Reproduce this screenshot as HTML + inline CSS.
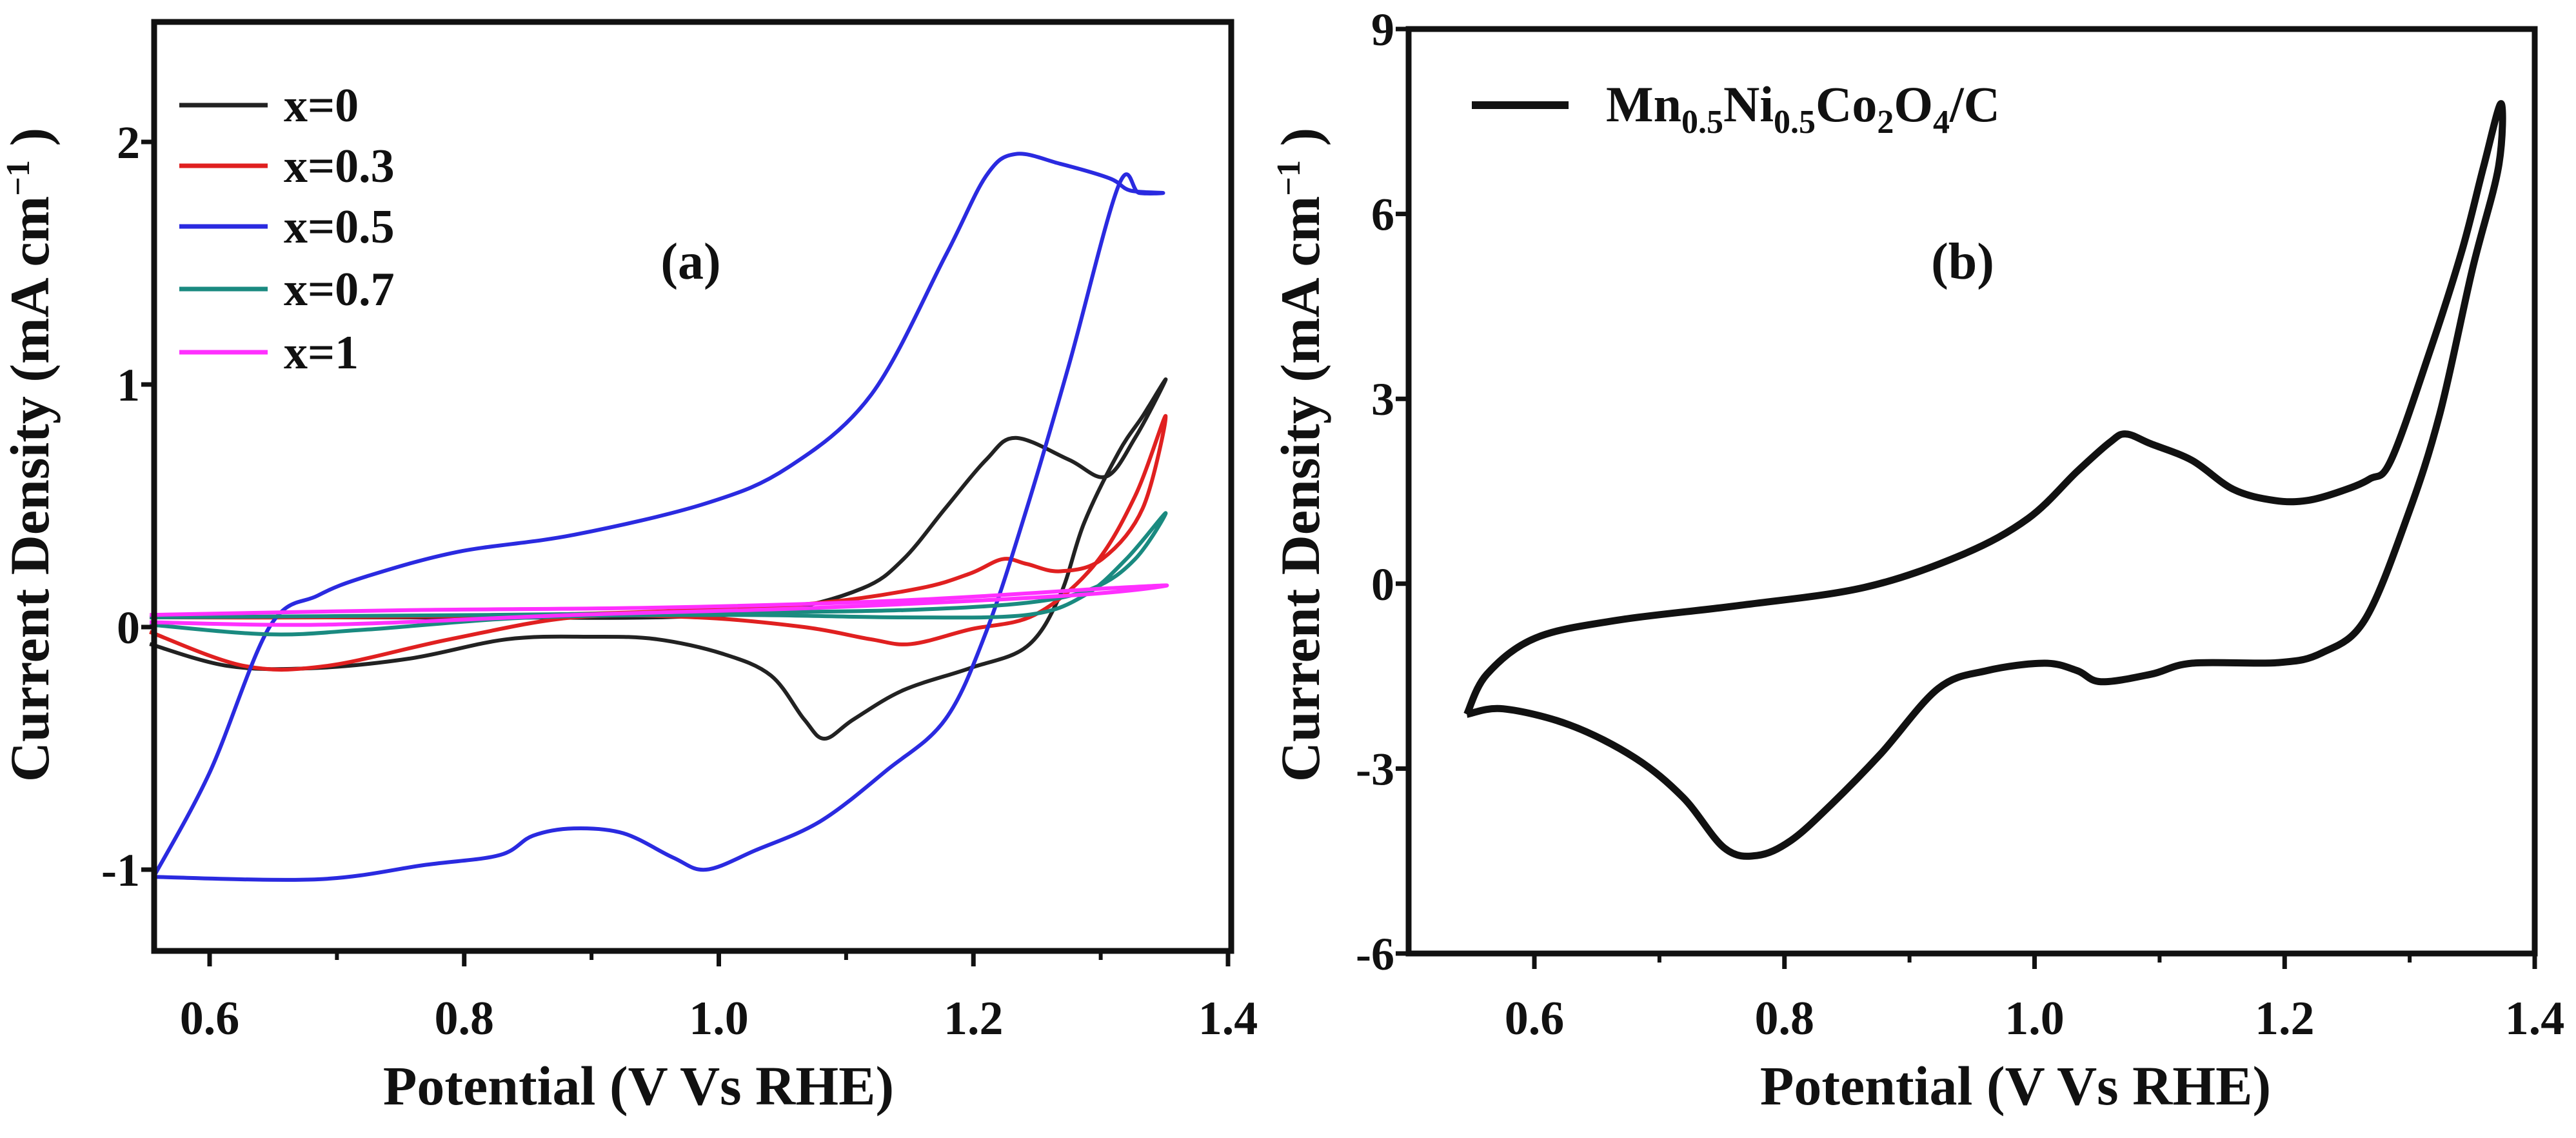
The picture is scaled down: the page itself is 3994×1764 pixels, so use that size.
<!DOCTYPE html>
<html><head><meta charset="utf-8"><style>
html,body{margin:0;padding:0;background:#fff;}
svg{display:block;}
text{font-family:"Liberation Serif",serif;font-weight:bold;fill:#111;}
</style></head><body>
<svg id="chart" width="3994" height="1764" viewBox="0 0 3994 1764" xmlns="http://www.w3.org/2000/svg">
<g id="pa"></g>
<g id="pb"></g>
</svg>
<script>
// Panel (a) data: closed CV loops [potential V, current mA/cm2]
const aXTicks = [0.6, 0.8, 1.0, 1.2, 1.4];
const aXTickLabels = ["0.6","0.8","1.0","1.2","1.4"];
const aYTicks = [-1, 0, 1, 2];
const aYTickLabels = ["-1","0","1","2"];
const aSeriesNames = ["x=0","x=0.3","x=0.5","x=0.7","x=1"];
const aSeriesColors = ["#222222","#e02020","#2a2ae0","#1a8a80","#ff30ff"];
const aX0 = [[0.553,-0.07],[0.614,-0.16],[0.679,-0.17],[0.757,-0.13],[0.834,-0.05],[0.9,-0.04],[0.951,-0.05],[1.003,-0.11],[1.041,-0.2],[1.067,-0.38],[1.083,-0.46],[1.106,-0.38],[1.145,-0.26],[1.197,-0.17],[1.242,-0.08],[1.268,0.13],[1.287,0.43],[1.314,0.72],[1.333,0.87],[1.351,1.02],[1.327,0.78],[1.304,0.62],[1.275,0.69],[1.233,0.78],[1.21,0.69],[1.178,0.49],[1.145,0.28],[1.113,0.16],[1.048,0.07],[0.951,0.04],[0.82,0.04],[0.69,0.04],[0.553,0.04]];
const aX03 = [[0.553,-0.02],[0.627,-0.16],[0.692,-0.16],[0.789,-0.05],[0.886,0.04],[0.983,0.04],[1.067,0.0],[1.119,-0.05],[1.151,-0.07],[1.197,-0.01],[1.248,0.05],[1.294,0.25],[1.327,0.54],[1.351,0.87],[1.333,0.49],[1.301,0.28],[1.268,0.23],[1.242,0.26],[1.223,0.28],[1.197,0.22],[1.158,0.16],[1.08,0.10],[0.983,0.07],[0.854,0.05],[0.692,0.04],[0.553,0.04]];
const aX05 = [[0.556,-1.03],[0.6,-0.6],[0.647,0.0],[0.685,0.13],[0.724,0.21],[0.795,0.31],[0.886,0.38],[0.99,0.51],[1.055,0.66],[1.12,0.96],[1.178,1.53],[1.21,1.86],[1.233,1.95],[1.268,1.91],[1.307,1.85],[1.323,1.80],[1.349,1.79],[1.33,1.79],[1.314,1.82],[1.275,1.08],[1.242,0.49],[1.21,-0.02],[1.178,-0.38],[1.132,-0.59],[1.08,-0.80],[1.029,-0.92],[0.99,-1.0],[0.964,-0.95],[0.925,-0.85],[0.886,-0.83],[0.854,-0.86],[0.828,-0.94],[0.77,-0.98],[0.685,-1.04],[0.556,-1.03]];
const aX07 = [[0.553,0.01],[0.647,-0.03],[0.724,-0.01],[0.854,0.04],[1.016,0.05],[1.145,0.04],[1.242,0.05],[1.287,0.13],[1.32,0.28],[1.351,0.47],[1.327,0.28],[1.294,0.16],[1.242,0.10],[1.145,0.07],[1.016,0.06],[0.82,0.05],[0.553,0.04]];
const aX1 = [[0.553,0.02],[0.692,0.01],[0.886,0.05],[1.08,0.08],[1.275,0.13],[1.351,0.17],[1.307,0.16],[1.145,0.11],[0.951,0.08],[0.757,0.07],[0.553,0.05]];
const aSeries = [aX0, aX03, aX05, aX07, aX1];

// Panel (b) data
const bXTicks = [0.6, 0.8, 1.0, 1.2, 1.4];
const bXTickLabels = ["0.6","0.8","1.0","1.2","1.4"];
const bYTicks = [-6,-3,0,3,6,9];
const bYTickLabels = ["-6","-3","0","3","6","9"];
const bCV = [[0.546,-2.12],[0.562,-1.47],[0.601,-0.88],[0.667,-0.59],[0.765,-0.35],[0.864,-0.06],[0.942,0.47],[0.995,1.06],[1.034,1.82],[1.06,2.29],[1.073,2.43],[1.093,2.27],[1.126,2.0],[1.159,1.53],[1.192,1.35],[1.218,1.35],[1.245,1.5],[1.268,1.7],[1.285,2.0],[1.316,3.76],[1.342,5.42],[1.359,6.76],[1.373,7.79],[1.371,6.76],[1.35,5.09],[1.324,2.75],[1.298,1.08],[1.264,-0.59],[1.23,-1.12],[1.195,-1.28],[1.126,-1.29],[1.093,-1.47],[1.053,-1.59],[1.034,-1.41],[1.008,-1.29],[0.962,-1.41],[0.923,-1.70],[0.877,-2.76],[0.837,-3.59],[0.805,-4.17],[0.778,-4.41],[0.752,-4.29],[0.719,-3.47],[0.68,-2.82],[0.628,-2.29],[0.575,-2.03],[0.546,-2.12]];

const NS="http://www.w3.org/2000/svg";
function mk(parent, tag, attrs, txt){
  const e=document.createElementNS(NS,tag);
  for(const k in attrs) e.setAttribute(k,attrs[k]);
  if(txt!==undefined) e.textContent=txt;
  parent.appendChild(e); return e;
}
function smooth(pts){
  let d="M"+pts[0][0].toFixed(1)+","+pts[0][1].toFixed(1);
  for(let i=0;i<pts.length-1;i++){
    const p0=pts[Math.max(i-1,0)],p1=pts[i],p2=pts[i+1],p3=pts[Math.min(i+2,pts.length-1)];
    const c1=[p1[0]+(p2[0]-p0[0])/6,p1[1]+(p2[1]-p0[1])/6];
    const c2=[p2[0]-(p3[0]-p1[0])/6,p2[1]-(p3[1]-p1[1])/6];
    d+=" C"+c1[0].toFixed(1)+","+c1[1].toFixed(1)+" "+c2[0].toFixed(1)+","+c2[1].toFixed(1)+" "+p2[0].toFixed(1)+","+p2[1].toFixed(1);
  }
  return d;
}
function panel(g, cfg){
  const sx=v=>cfg.px0+(v-cfg.x0)*(cfg.px1-cfg.px0)/(cfg.x1-cfg.x0);
  const sy=v=>cfg.py0+(v-cfg.y0)*(cfg.py1-cfg.py0)/(cfg.y1-cfg.y0);
  cfg.series.forEach((s,i)=>{
    const p=mk(g,"path",{d:smooth(s.map(q=>[sx(q[0]),sy(q[1])])),fill:"none",stroke:cfg.colors[i],"stroke-width":cfg.lw,"stroke-linejoin":"round"});
    
    
  });
  const fr=mk(g,"rect",{x:cfg.L,y:cfg.T,width:cfg.R-cfg.L,height:cfg.B-cfg.T,fill:"none",stroke:"#111","stroke-width":9});
  
  
  cfg.xt.forEach((v,i)=>{
    const x=sx(v);
    const t=mk(g,"line",{x1:x,x2:x,y1:cfg.B,y2:cfg.B+24,stroke:"#111","stroke-width":7});
    
    
    if(i<cfg.xt.length-1){
      const m=mk(g,"line",{x1:sx(v+0.1),x2:sx(v+0.1),y1:cfg.B,y2:cfg.B+14,stroke:"#111","stroke-width":6});
      
      
    }
    const l=mk(g,"text",{x:x,y:1603,"font-size":74,"text-anchor":"middle"},cfg.xl[i]);
    
    
  });
  cfg.yt.forEach((v,i)=>{
    const y=sy(v);
    const t=mk(g,"line",{x1:cfg.L-20,x2:cfg.L,y1:y,y2:y,stroke:"#111","stroke-width":7});
    
    
    const l=mk(g,"text",{x:cfg.L-22,y:y+25,"font-size":72,"text-anchor":"end"},cfg.yl[i]);
    
    
  });
  const xt=mk(g,"text",{x:cfg.xtc,y:1712,"font-size":86,"text-anchor":"middle"},"Potential (V Vs RHE)");
  
  
  const yt=mk(g,"text",{x:0,y:0,"font-size":86,"text-anchor":"middle",transform:"translate("+cfg.ytx+",705) rotate(-90)"});
  
  
  yt.innerHTML='Current Density  (mA cm<tspan dy="-30" font-size="52">−1</tspan><tspan dy="30"> )</tspan>';
  const lab=mk(g,"text",{x:cfg.labx,y:432,"font-size":80,"text-anchor":"middle"},cfg.lab);
  
  
}
panel(document.getElementById("pa"),{
  x0:0.6,x1:1.4,px0:325,px1:1904,y0:0,y1:1,py0:972,py1:596,
  L:239,R:1909,T:34,B:1474,lw:6,series:aSeries,colors:aSeriesColors,names:aSeriesNames,
  xt:aXTicks,xl:aXTickLabels,yt:aYTicks,yl:aYTickLabels,xtc:990,ytx:75,labx:1071,lab:"(a)"});
panel(document.getElementById("pb"),{
  x0:0.6,x1:1.4,px0:2379,px1:3930,y0:-6,y1:9,py0:1478,py1:45,
  L:2184,R:3930,T:45,B:1478,lw:11,series:[bCV],colors:["#111"],names:["mn-ni-co-o"],
  xt:bXTicks,xl:bXTickLabels,yt:bYTicks,yl:bYTickLabels,xtc:3125,ytx:2045,labx:3043,lab:"(b)"});
const pa=document.getElementById("pa");
const legY=[163,257,351,448,546];
aSeriesNames.forEach((n,i)=>{
  const l=mk(pa,"line",{x1:278,x2:415,y1:legY[i],y2:legY[i],stroke:aSeriesColors[i],"stroke-width":7});
  
  
  const t=mk(pa,"text",{x:440,y:legY[i]+25,"font-size":74},n);
  
  
});
const pb=document.getElementById("pb");
const bl=mk(pb,"line",{x1:2282,x2:2432,y1:163,y2:163,stroke:"#111","stroke-width":12});


const bt=mk(pb,"text",{x:2490,y:188,"font-size":78});


bt.innerHTML='Mn<tspan dy="18" font-size="52">0.5</tspan><tspan dy="-18">Ni</tspan><tspan dy="18" font-size="52">0.5</tspan><tspan dy="-18">Co</tspan><tspan dy="18" font-size="52">2</tspan><tspan dy="-18">O</tspan><tspan dy="18" font-size="52">4</tspan><tspan dy="-18">/C</tspan>';
</script>
</body></html>
